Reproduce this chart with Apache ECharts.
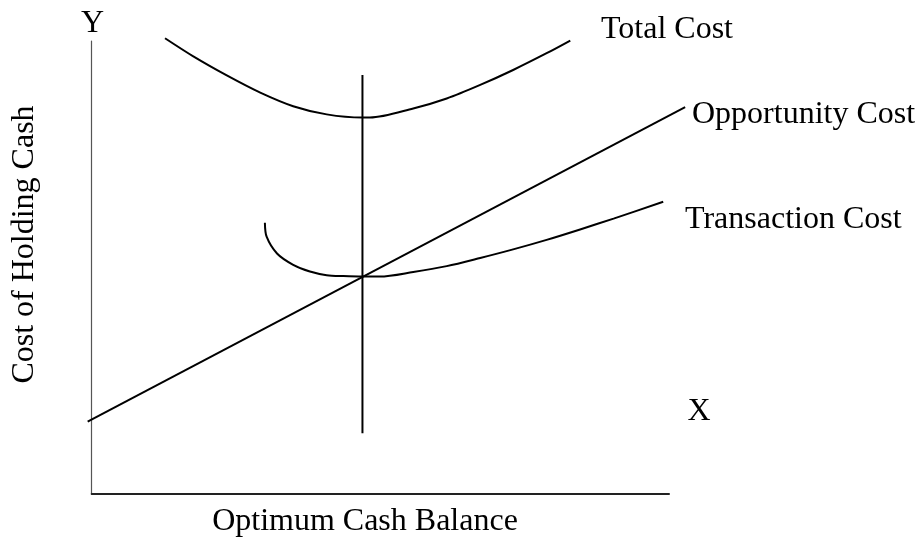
<!DOCTYPE html>
<html>
<head>
<meta charset="utf-8">
<script src="https://cdn.jsdelivr.net/npm/echarts@6/dist/echarts.min.js"></script>
<style>
  html, body { margin: 0; padding: 0; background: #fff; }
  #chart { width: 916px; height: 537px; }
</style>
</head>
<body>
<div id="chart"></div>
<script>
// curve points, both axes run 0..100
var totalCost = [
    [12.7, 100.6], [17.6, 96.6], [23.4, 92.4], [29.2, 88.6], [34.9, 85.6],
    [40.7, 83.8], [46.9, 83.1], [48.2, 83.1], [55.7, 85.1], [61.5, 87.3],
    [67.3, 90.3], [73.0, 93.6], [78.8, 97.3], [82.9, 100.1]
];
var opportunityCost = [[-0.7, 16.0], [102.8, 85.4]];
var transactionCost = [
    [30.0, 59.9], [30.3, 56.8], [32.1, 53.1], [34.9, 50.6], [37.8, 49.1],
    [40.7, 48.3], [43.6, 48.1], [46.9, 48.0], [49.9, 48.0], [55.7, 49.0],
    [61.5, 50.3], [67.3, 52.1], [73.0, 54.0], [78.8, 56.1], [84.6, 58.4],
    [90.4, 60.8], [99.0, 64.5]
];
var optimumLine = [[46.9, 13.4], [46.9, 92.5]];

var font = '32px "Liberation Serif", "Times New Roman", serif';

// axes grid: 0..100 over the drawn axis lines
var axLeft = 91.7, axRight = 669, axTop = 41, axBottom = 494;
var ux = (axRight - axLeft) / 100, uy = (axBottom - axTop) / 100;
// the curves run a little past the axes, so they sit in a wider grid with the same scale
var xMin = -2, xMax = 106, yMax = 104;

function curve(name, data, smooth) {
    return {
        name: name,
        type: 'line',
        xAxisIndex: 1,
        yAxisIndex: 1,
        data: data,
        smooth: smooth,
        showSymbol: false,
        silent: true,
        lineStyle: { color: '#000', width: 2 }
    };
}

function label(text, x, y, align, rotation) {
    return {
        type: 'text',
        x: x,
        y: y,
        rotation: rotation || 0,
        style: { text: text, font: font, fill: '#000', align: align, verticalAlign: 'middle' }
    };
}

function hiddenAxis(idx, min, max) {
    return {
        type: 'value', gridIndex: idx, min: min, max: max, show: false,
        splitLine: { show: false }
    };
}

var option = {
    animation: false,
    backgroundColor: '#fff',
    grid: [
        { left: axLeft, right: 916 - axRight, top: axTop, bottom: 537 - axBottom },
        {
            left: axLeft + xMin * ux,
            right: 916 - (axLeft + xMax * ux),
            top: axBottom - yMax * uy,
            bottom: 537 - axBottom
        }
    ],
    xAxis: [
        {
            type: 'value',
            gridIndex: 0,
            min: 0,
            max: 100,
            axisLine: { show: true, onZero: false, lineStyle: { color: '#222', width: 2 } },
            axisTick: { show: false },
            axisLabel: { show: false },
            splitLine: { show: false }
        },
        hiddenAxis(1, xMin, xMax)
    ],
    yAxis: [
        {
            type: 'value',
            gridIndex: 0,
            min: 0,
            max: 100,
            axisLine: { show: true, onZero: false, lineStyle: { color: '#555', width: 1.2 } },
            axisTick: { show: false },
            axisLabel: { show: false },
            splitLine: { show: false }
        },
        hiddenAxis(1, 0, yMax)
    ],
    series: [
        curve('Total Cost', totalCost, 0.3),
        curve('Opportunity Cost', opportunityCost, false),
        curve('Transaction Cost', transactionCost, 0.3),
        curve('optimum', optimumLine, false)
    ],
    graphic: [
        label('Y', 92.5, 24, 'center'),
        label('X', 699, 412, 'center'),
        label('Total Cost', 601, 30, 'left'),
        label('Opportunity Cost', 692, 114.5, 'left'),
        label('Transaction Cost', 685, 219.5, 'left'),
        label('Optimum Cash Balance', 365, 522, 'center'),
        label('Cost of Holding Cash', 25, 244.5, 'center', Math.PI / 2)
    ]
};

echarts.init(document.getElementById('chart')).setOption(option);
</script>
</body>
</html>
